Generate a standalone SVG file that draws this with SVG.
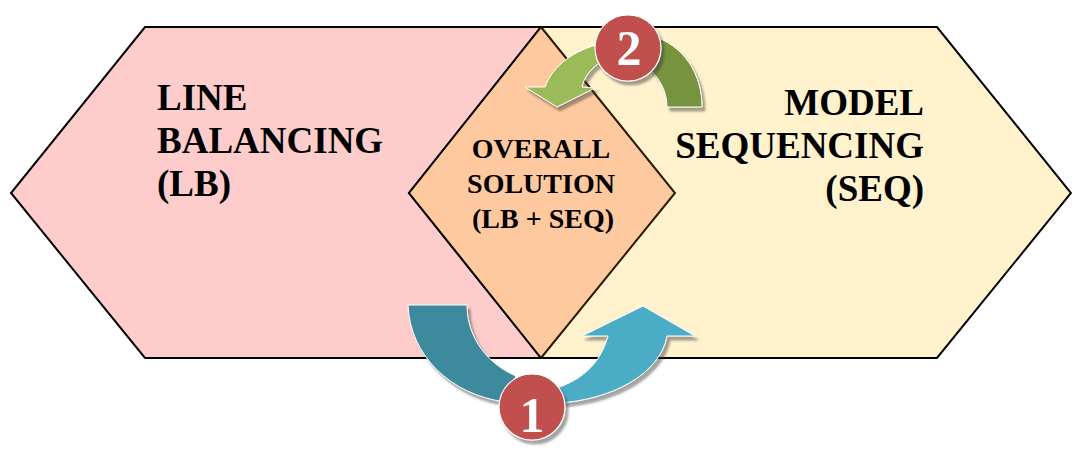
<svg xmlns="http://www.w3.org/2000/svg" width="1072" height="450" viewBox="0 0 1072 450">
  <style>
    .hex { stroke: #000; stroke-width: 2; stroke-linejoin: miter; }
    .label { font-family: "Liberation Serif", "Times New Roman", serif; font-weight: bold; fill: #000; }
    .big { font-size: 37px; }
    .mid { font-size: 28px; }
    .num { font-family: "Liberation Serif", "Times New Roman", serif; font-weight: bold; font-size: 50px; fill: #fff; text-anchor: middle; }
    .arrow { stroke: #fff; stroke-width: 1; stroke-linejoin: miter; filter: url(#shadow); }
    .badge { fill: #C0504D; stroke: #fff; stroke-width: 1.2; filter: url(#shadow); }
  </style>
  <defs>
    <filter id="shadow" x="-20%" y="-20%" width="150%" height="150%">
      <feDropShadow dx="3" dy="4" stdDeviation="1.2" flood-color="#333" flood-opacity="0.45"/>
    </filter>
  </defs>

  <rect width="1072" height="450" fill="#fff"/>

  <!-- Line balancing hexagon -->
  <g id="line-balancing">
    <polygon class="hex" fill="#FFCCCC" points="145,27 541,27 675,193 541,358 145,358 11,193"/>
  </g>

  <!-- Model sequencing hexagon -->
  <g id="model-sequencing">
    <polygon class="hex" fill="#FFF2CC" points="541,27 937,27 1071,193 937,358 541,358 409,193"/>
  </g>

  <!-- Overlap: overall solution -->
  <g id="overall-solution">
    <polygon fill="#FFC9A0" stroke="none" points="541,27 675,193 541,358 409,193"/>
    <polyline fill="none" stroke="#000" stroke-width="2" points="541,27 409,193 541,358"/>
    <polyline fill="none" stroke="#2a1a00" stroke-width="2" points="541,27 675,193 541,358"/>
  </g>

  <!-- Labels -->
  <g id="lb-label" class="label big">
    <text x="157" y="110">LINE</text>
    <text x="157" y="153">BALANCING</text>
    <text x="157" y="196">(LB)</text>
  </g>
  <g id="seq-label" class="label big" text-anchor="end">
    <text x="924" y="115">MODEL</text>
    <text x="924" y="158">SEQUENCING</text>
    <text x="924" y="201">(SEQ)</text>
  </g>
  <g id="overall-label" class="label mid" text-anchor="middle">
    <text x="541" y="158">OVERALL</text>
    <text x="541" y="193">SOLUTION</text>
    <text x="543" y="228">(LB + SEQ)</text>
  </g>

  <!-- Connectors: curved cycle arrows -->
  <g id="connectors">
    <!-- step 1: from line balancing, round the bottom, into sequencing -->
    <path class="arrow" fill="#3E8A9E" d="M408,305 C410,355 450,395 506,402 L516,376 C490,365 467,340 467,305 Z"/>
    <path class="arrow" fill="#4BACC6" d="M558,403 C610,400 660,375 667,336 L695,336 L643,306 L582,336 L608,336 C600,365 580,382 550,390 Z"/>
    <!-- step 2: from sequencing, over the top, back into the overall solution -->
    <path class="arrow" fill="#77933C" d="M650,35 C685,45 702,75 702,107 L667,107 C667,92 660,78 648,68 Z"/>
    <path class="arrow" fill="#9BBB59" d="M600,44 C575,50 553,65 545,87 L525,87 L557,107 L595,88 L582,87 C584,78 590,68 604,60 Z"/>
  </g>

  <!-- Step badges -->
  <g id="step-1">
    <circle class="badge" cx="532" cy="407" r="33"/>
    <text class="num" x="532" y="432">1</text>
  </g>
  <g id="step-2">
    <circle class="badge" cx="628" cy="48" r="33"/>
    <text class="num" x="629" y="65">2</text>
  </g>
</svg>
